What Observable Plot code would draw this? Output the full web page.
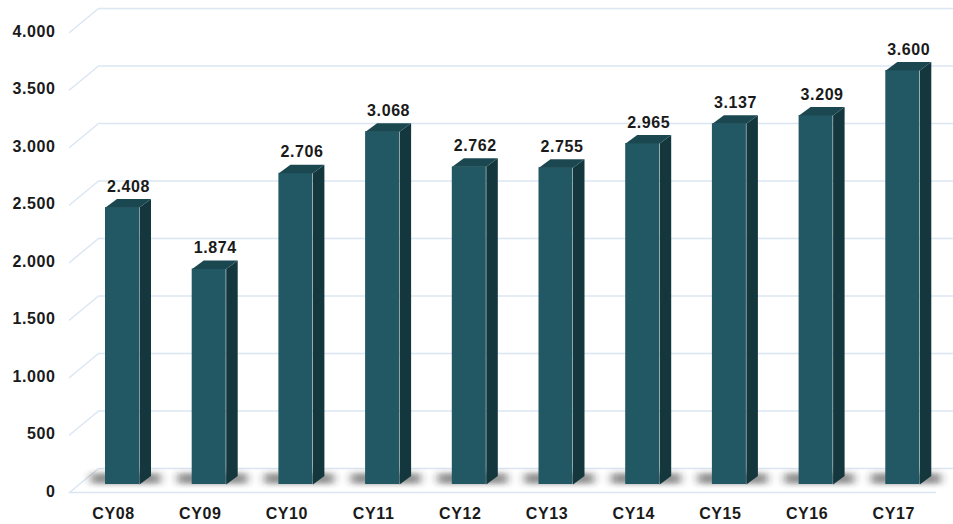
<!DOCTYPE html>
<html><head><meta charset="utf-8">
<script src="https://cdn.jsdelivr.net/npm/d3@7"></script>
<script src="https://cdn.jsdelivr.net/npm/@observablehq/plot@0.6"></script>
<style>body{margin:0;background:#fff;} #chart svg{display:block;}</style>
</head><body><div id="chart"></div>
<script>
// ---- data ----
const categories = ["CY08","CY09","CY10","CY11","CY12","CY13","CY14","CY15","CY16","CY17"];
const values = [2408, 1874, 2706, 3068, 2762, 2755, 2965, 3137, 3209, 3600];
const yTicks = [0, 500, 1000, 1500, 2000, 2500, 3000, 3500, 4000];

// ---- layout (pixels) ----
const W = 953, H = 524;
const X0 = 122, XS = 86.7;      // first bar center, px per category
const Y0 = 484, YS = 0.115;     // bar base, px per unit
const ix = px => (px - X0) / XS;       // pixel x -> data x
const dxu = px => px / XS;             // pixel width -> data
const dyu = px => px / YS;             // pixel height -> data
const hw = dxu(17), sdX = dxu(11.5), sdY = dyu(8.5);

const loc = d3.formatLocale({decimal: ",", thousands: ".", grouping: [3], currency: ["", ""]});
const fmt = loc.format(",");

const data = categories.map((c, i) => ({i, c, v: values[i]}));

// polygons
const sides = [], tops = [];
data.forEach(d => {
  const xl = d.i - hw, xr = d.i + hw;
  sides.push({id: d.i, x: xr, y: 0}, {id: d.i, x: xr + sdX, y: sdY}, {id: d.i, x: xr + sdX, y: d.v + sdY}, {id: d.i, x: xr, y: d.v});
  tops.push({id: d.i, x: xl, y: d.v}, {id: d.i, x: xr, y: d.v}, {id: d.i, x: xr + sdX, y: d.v + sdY}, {id: d.i, x: xl + sdX, y: d.v + sdY});
});

// 3D gridlines: front-left corner -> back-left corner -> right edge
const grid = [];
yTicks.forEach(t => {
  grid.push({id: t, x: ix(69), y: t - dyu(8)}, {id: t, x: ix(98), y: t + dyu(16)}, {id: t, x: ix(953), y: t + dyu(16)});
});
const floorFront = [{id: "f", x: ix(69), y: -dyu(8)}, {id: "f", x: ix(935), y: -dyu(8)}];

const textColor = "#1a1a1a";
const shadowColor = "#2b2b2b";
const font = "Liberation Sans, Arial, sans-serif";

const plot = Plot.plot({
  width: W, height: H,
  marginLeft: 60, marginRight: 0, marginTop: 0, marginBottom: 0,
  style: {fontFamily: font, background: "#fff", overflow: "visible"},
  x: {type: "linear", domain: [0, categories.length - 1], range: [X0, X0 + (categories.length - 1) * XS], axis: null},
  y: {domain: [0, 4000], range: [Y0, Y0 - 4000 * YS], axis: null},
  marks: [
    Plot.line(grid, {x: "x", y: "y", z: "id", stroke: "#dbe6f2", strokeWidth: 1.5}),
    Plot.line(floorFront, {x: "x", y: "y", z: "id", stroke: "#dbe6f2", strokeWidth: 1.5}),
    Plot.rect(data, {x1: d => d.i - hw - dxu(14), x2: d => d.i + hw + sdX + dxu(10), y1: dyu(0), y2: dyu(11), fill: shadowColor, fillOpacity: 0.5}),
    Plot.rect(data, {x1: d => d.i - hw, x2: d => d.i + hw, y1: 0, y2: "v", fill: "#215864", inset: 0}),
    Plot.line(sides, {x: "x", y: "y", z: "id", fill: "#14373e", stroke: "none"}),
    Plot.line(tops, {x: "x", y: "y", z: "id", fill: "#1b4850", stroke: "none"}),
    Plot.text(data, {x: "i", y: "v", dx: 6, dy: -21, text: d => fmt(d.v), fill: textColor, fontSize: 16, fontWeight: "bold"}),
    Plot.text(yTicks, {y: d => d, frameAnchor: "left", dx: -5, dy: 7, text: d => fmt(d), textAnchor: "end", fill: textColor, fontSize: 16, fontWeight: "bold"}),
    Plot.text(data, {x: "i", y: () => -dyu(29), dx: -9, text: "c", fill: textColor, fontSize: 16, fontWeight: "bold"})
  ]
});

// blur filter for floor shadows
const svg = d3.select(plot);
svg.insert("defs", ":first-child").append("filter").attr("id", "shblur")
  .attr("filterUnits", "userSpaceOnUse").attr("x", 0).attr("y", 0).attr("width", W).attr("height", H)
  .append("feGaussianBlur").attr("stdDeviation", "4 2.5");
svg.selectAll("g").filter(function() { return this.getAttribute("fill") === shadowColor; })
  .attr("filter", "url(#shblur)");
svg.selectAll("text").style("letter-spacing", "0.6px");

document.getElementById("chart").appendChild(plot);
</script>
</body></html>
